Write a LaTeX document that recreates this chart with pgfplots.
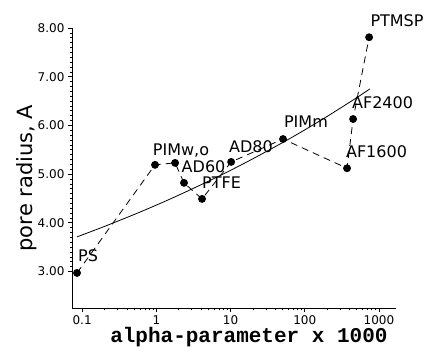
\documentclass[border=0pt]{standalone}
\usepackage{fontspec}
\setmainfont{DejaVu Sans}
\newfontfamily\monob{Liberation Mono}
\usepackage{pgfplots}
\pgfplotsset{compat=1.18}
\begin{document}
\begin{tikzpicture}
\useasboundingbox (-72pt,-43pt) rectangle (352pt,308pt);
\begin{axis}[
  at={(0,0)}, anchor=south west,
  scale only axis, width=324pt, height=280pt,
  xmode=log, xmin=0.073, xmax=1700, ymin=2.25, ymax=8,
  axis lines=left, axis line style={-, line width=0.8pt},
  tick align=outside,
  xtick={0.1,1,10,100,1000}, xticklabels={0.1,1,10,100,1000},
  ytick={3,4,5,6,7,8},
  yticklabel style={/pgf/number format/.cd, fixed, fixed zerofill, precision=2},
  minor y tick num=9,
  major tick length=4pt, minor tick length=2.5pt,
  tick style={black, line width=0.6pt},
  /pgf/number format/assume math mode=true,
  ticklabel style={font=\fontsize{12}{14}\selectfont},
  clip=false,
  xlabel={\monob\bfseries alpha-parameter x 1000},
  xlabel style={font=\fontsize{21}{24}\selectfont, at={(axis description cs:0.546,0)}, anchor=base, yshift=-35pt},
  ylabel={pore radius, A},
  ylabel style={font=\fontsize{21}{24}\selectfont, at={(axis description cs:0,0.464)}, anchor=base, yshift=39pt},
]
\addplot[black, line width=0.8pt, smooth] coordinates {
(0.085,3.71) (0.2,3.925) (0.5,4.169) (1,4.363) (2,4.567) (5,4.851) (10,5.077)
(20,5.314) (50,5.644) (100,5.907) (200,6.183) (500,6.567) (757,6.75)};
\addplot[black, line width=0.8pt, dash pattern=on 7pt off 5pt, mark=*, mark size=3.5pt, mark options={solid}] coordinates {
(0.0853,2.97) (0.96,5.19) (1.79,5.23) (2.36,4.82) (4.13,4.49) (10.2,5.25)
(51,5.72) (372,5.12) (449,6.13) (738,7.81)};
\begin{scope}[every node/.style={font=\fontsize{16}{18}\selectfont, inner sep=0pt}]
\node at (axis cs:0.12,3.32) {PS};
\node at (axis cs:2.15,5.49) {PIMw,o};
\node at (axis cs:4.33,5.15) {AD60};
\node at (axis cs:7.57,4.82) {PTFE};
\node at (axis cs:18.9,5.56) {AD80};
\node at (axis cs:104,6.07) {PIMm};
\node at (axis cs:1120,6.46) {AF2400};
\node at (axis cs:929,5.45) {AF1600};
\node at (axis cs:1755,8.16) {PTMSP};
\end{scope}
\end{axis}
\end{tikzpicture}
\end{document}
